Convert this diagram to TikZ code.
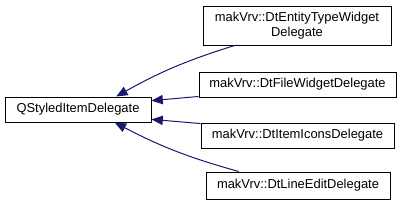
\documentclass[tikz,border=0pt]{standalone}
\usepackage{fontspec}
\setmainfont{Liberation Sans}
\usetikzlibrary{positioning,arrows.meta,calc}
\definecolor{edgeblue}{RGB}{25,25,112}
\tikzset{
  class-node/.style={draw=black, line width=0.75pt, fill=white,
    font=\fontsize{9.7}{11.2}\selectfont, align=center, inner sep=0pt},
  inherit-arrow/.style={{Triangle[length=8.5pt,width=7pt]}-, line width=0.75pt, draw=edgeblue}
}

\begin{document}
\begin{tikzpicture}[x=0.75pt, y=-0.75pt]
\useasboundingbox (0,0) rectangle (403,205);

% Base class
\node[class-node, minimum width=109.5pt, minimum height=18.75pt] (base) at (78,109.5) {QStyledItemDelegate};

% Derived classes
\node[class-node, minimum width=141pt, minimum height=29.25pt] (entity) at (297,25.5) {makVrv::DtEntityTypeWidget\\Delegate};
\node[class-node, minimum width=147.75pt, minimum height=18.75pt] (file) at (297.5,84.5) {makVrv::DtFileWidgetDelegate};
\node[class-node, minimum width=144.75pt, minimum height=18.75pt] (icons) at (297.5,135.5) {makVrv::DtItemIconsDelegate};
\node[class-node, minimum width=138pt, minimum height=20.25pt] (lineedit) at (298,185.5) {makVrv::DtLineEditDelegate};

% Inheritance arrows
\draw[inherit-arrow] ($(base.north west)!0.76!(base.north east)$) to[bend left=6] ($(entity.south west)!0.17!(entity.south east)$);
\draw[inherit-arrow] ($(base.north east)!0.16!(base.south east)$) -- ($(file.north west)!0.96!(file.south west)$);
\draw[inherit-arrow] ($(base.north east)!0.88!(base.south east)$) -- ($(icons.north west)!0.04!(icons.south west)$);
\draw[inherit-arrow] ($(base.south west)!0.75!(base.south east)$) to[bend right=6] ($(lineedit.north west)!0.18!(lineedit.north east)$);
\end{tikzpicture}
\end{document}
